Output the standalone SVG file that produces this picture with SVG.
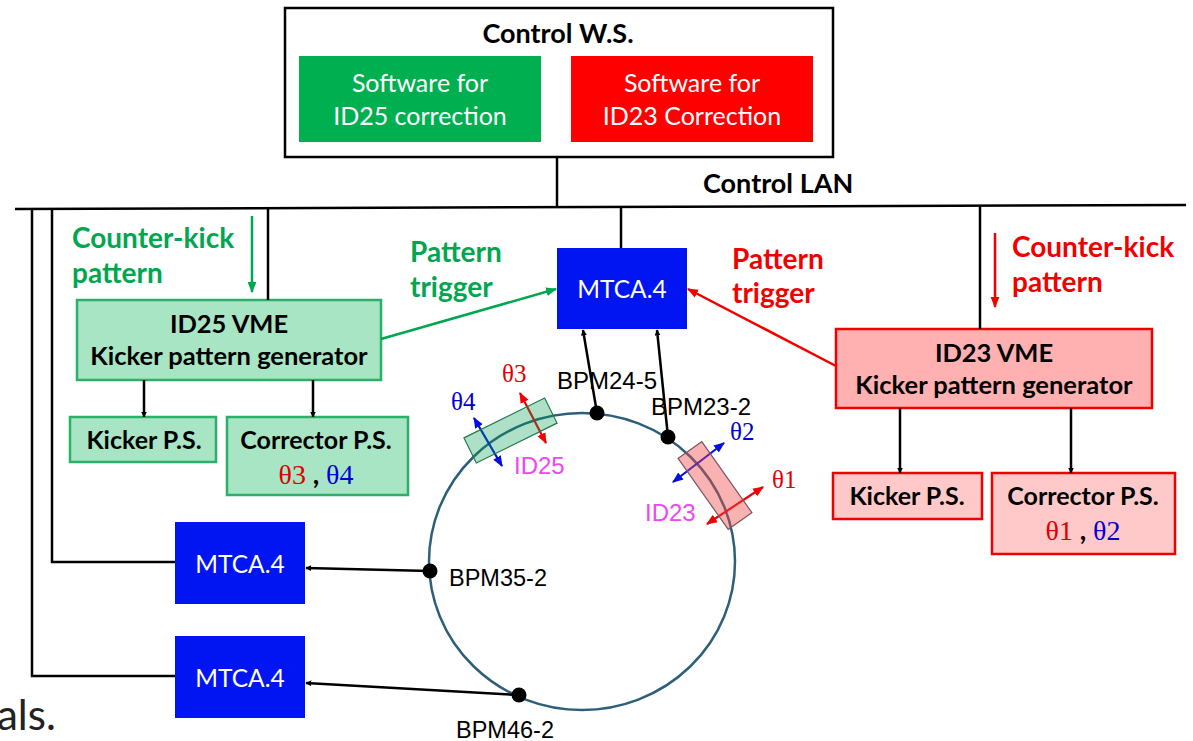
<svg xmlns="http://www.w3.org/2000/svg" width="1193" height="741" viewBox="0 0 1193 741">
  <defs>
    <style>
      .sans { font-family: Lato, "Noto Sans", "Liberation Sans", sans-serif; }
      .arial { font-family: "Liberation Sans", Arial, sans-serif; }
      .serif { font-family: "Liberation Serif", "Times New Roman", serif; }
      .b { font-weight: bold; }
      .line { stroke: #000; stroke-width: 2.5; fill: none; }
      .conn { stroke: #000; stroke-width: 2.5; fill: none; marker-end: url(#ah); }
      .grn { fill: #00A650; }
      .red { fill: #F20000; }
      .box-g { fill: #A8E5C4; stroke: #2BB067; stroke-width: 2.5; }
      .box-r { fill: #FFB0B0; stroke: #F00000; stroke-width: 2.5; }
      .box-r2 { fill: #FFC9C9; stroke: #F00000; stroke-width: 2.5; }
      .mtca { fill: #0015F2; }
      .wt { fill: #fff; }
      .bpm { fill: #000; }
      .th-r { fill: #E00000; }
      .th-b { fill: #0000D0; }
    </style>
    <marker id="ah" viewBox="0 0 10 10" refX="9" refY="5" markerWidth="6" markerHeight="6" orient="auto-start-reverse" markerUnits="userSpaceOnUse">
      <path d="M0,0 L10,5 L0,10 z" fill="#000"/>
    </marker>
    <marker id="ahg" viewBox="0 0 10 10" refX="9" refY="5" markerWidth="11" markerHeight="11" orient="auto" markerUnits="userSpaceOnUse">
      <path d="M0,1 L10,5 L0,9 z" fill="#00A650"/>
    </marker>
    <marker id="ahr" viewBox="0 0 10 10" refX="9" refY="5" markerWidth="11" markerHeight="11" orient="auto" markerUnits="userSpaceOnUse">
      <path d="M0,1 L10,5 L0,9 z" fill="#F20000"/>
    </marker>
    <marker id="tr" viewBox="0 0 10 10" refX="9" refY="5" markerWidth="11" markerHeight="11" orient="auto-start-reverse" markerUnits="userSpaceOnUse">
      <path d="M0,1 L10,5 L0,9 z" fill="#F00000"/>
    </marker>
    <marker id="tb" viewBox="0 0 10 10" refX="9" refY="5" markerWidth="11" markerHeight="11" orient="auto-start-reverse" markerUnits="userSpaceOnUse">
      <path d="M0,1 L10,5 L0,9 z" fill="#0010E0"/>
    </marker>
  </defs>

  <rect width="1193" height="741" fill="#fff"/>

  <!-- Control workstation -->
  <g id="control-ws">
    <rect x="285" y="8" width="548" height="149" fill="#fff" stroke="#000" stroke-width="2.5"/>
    <text x="558" y="43" text-anchor="middle" class="sans b" font-size="27">Control W.S.</text>
  </g>
  <g id="sw-id25">
    <rect x="299" y="56" width="242" height="86" fill="#00B050"/>
    <text x="420" y="92" text-anchor="middle" class="sans wt" font-size="25">Software for</text>
    <text x="420" y="125" text-anchor="middle" class="sans wt" font-size="25">ID25 correction</text>
  </g>
  <g id="sw-id23">
    <rect x="571" y="56" width="242" height="86" fill="#FF0000"/>
    <text x="692" y="92" text-anchor="middle" class="sans wt" font-size="25">Software for</text>
    <text x="692" y="125" text-anchor="middle" class="sans wt" font-size="25">ID23 Correction</text>
  </g>

  <!-- Control LAN bus -->
  <g id="control-lan">
    <line x1="15" y1="209" x2="1186" y2="205" class="line"/>
    <text x="703" y="193" class="sans b" font-size="27">Control LAN</text>
  </g>

  <!-- ID25 side -->
  <g id="id25-vme">
    <rect x="77" y="300" width="304" height="80" class="box-g"/>
    <text x="229" y="333" text-anchor="middle" class="sans b" font-size="25.5">ID25 VME</text>
    <text x="229" y="365" text-anchor="middle" class="sans b" font-size="25.5">Kicker pattern generator</text>
  </g>
  <g id="id25-kicker-ps">
    <rect x="70" y="417" width="146" height="45" class="box-g"/>
    <text x="144" y="449" text-anchor="middle" class="sans b" font-size="25">Kicker P.S.</text>
  </g>
  <g id="id25-corrector-ps">
    <rect x="227" y="417" width="181" height="78" class="box-g"/>
    <text x="316" y="449" text-anchor="middle" class="sans b" font-size="25">Corrector P.S.</text>
    <text x="316" y="484" text-anchor="middle" font-size="28"><tspan class="serif th-r">θ3</tspan><tspan class="sans b"> , </tspan><tspan class="serif th-b">θ4</tspan></text>
  </g>

  <!-- ID23 side -->
  <g id="id23-vme">
    <rect x="836" y="329" width="316" height="79" class="box-r"/>
    <text x="994" y="362" text-anchor="middle" class="sans b" font-size="25.5">ID23 VME</text>
    <text x="994" y="394" text-anchor="middle" class="sans b" font-size="25.5">Kicker pattern generator</text>
  </g>
  <g id="id23-kicker-ps">
    <rect x="833" y="473" width="149" height="46" class="box-r2"/>
    <text x="907" y="505" text-anchor="middle" class="sans b" font-size="25">Kicker P.S.</text>
  </g>
  <g id="id23-corrector-ps">
    <rect x="992" y="473" width="183" height="81" class="box-r2"/>
    <text x="1083" y="505" text-anchor="middle" class="sans b" font-size="25">Corrector P.S.</text>
    <text x="1083" y="540" text-anchor="middle" font-size="28"><tspan class="serif th-r">θ1</tspan><tspan class="sans b"> , </tspan><tspan class="serif th-b">θ2</tspan></text>
  </g>

  <!-- MTCA.4 crates -->
  <g id="mtca-main">
    <rect x="557" y="248" width="130" height="81" class="mtca"/>
    <text x="622" y="298" text-anchor="middle" class="sans wt" font-size="24.5">MTCA.4</text>
  </g>
  <g id="mtca-35">
    <rect x="175" y="522" width="130" height="82" class="mtca"/>
    <text x="240" y="573" text-anchor="middle" class="sans wt" font-size="24.5">MTCA.4</text>
  </g>
  <g id="mtca-46">
    <rect x="175" y="636" width="130" height="82" class="mtca"/>
    <text x="240" y="687" text-anchor="middle" class="sans wt" font-size="24.5">MTCA.4</text>
  </g>

  <!-- Storage ring with insertion devices -->
  <g id="ring">
    <ellipse cx="582" cy="561.5" rx="153" ry="148.5" fill="none" stroke="#2E5F7A" stroke-width="2.5"/>
  </g>
  <g id="id25">
    <line x1="520" y1="393" x2="546" y2="443" stroke="#F00000" stroke-width="2.2" marker-start="url(#tr)" marker-end="url(#tr)"/>
    <line x1="474" y1="418" x2="502" y2="466" stroke="#0010E0" stroke-width="2.2" marker-start="url(#tb)" marker-end="url(#tb)"/>
    <rect x="-45" y="-14" width="90" height="28" transform="translate(510.5 430.5) rotate(-26.3)" fill="#00A050" fill-opacity="0.32" stroke="#1F7A4A" stroke-width="1.2"/>
    <text x="514" y="474" class="arial" font-size="24" fill="#F046EE">ID25</text>
    <text x="502" y="382" class="serif th-r" font-size="25">θ3</text>
    <text x="451" y="410" class="serif th-b" font-size="25">θ4</text>
  </g>
  <g id="id23">
    <line x1="673" y1="482" x2="724" y2="443" stroke="#0010E0" stroke-width="2.2" marker-start="url(#tb)" marker-end="url(#tb)"/>
    <line x1="707" y1="524" x2="763" y2="487" stroke="#F00000" stroke-width="2.2" marker-start="url(#tr)" marker-end="url(#tr)"/>
    <rect x="-43.5" y="-14.5" width="87" height="29" transform="translate(715 485.5) rotate(54.8)" fill="#F04848" fill-opacity="0.42" stroke="#7A5560" stroke-width="1.2"/>
    <text x="645" y="521" class="arial" font-size="24" fill="#F046EE">ID23</text>
    <text x="730" y="440" class="serif th-b" font-size="25">θ2</text>
    <text x="772" y="488" class="serif th-r" font-size="25">θ1</text>
  </g>

  <!-- Beam position monitors -->
  <g id="bpm24-5">
    <circle cx="597" cy="413" r="7.5" class="bpm"/>
    <text x="557" y="389" class="arial" font-size="24">BPM24-5</text>
  </g>
  <g id="bpm23-2">
    <circle cx="668" cy="437" r="7.5" class="bpm"/>
    <text x="651" y="415" class="arial" font-size="24">BPM23-2</text>
  </g>
  <g id="bpm35-2">
    <circle cx="430" cy="571" r="7.5" class="bpm"/>
    <text x="449" y="586" class="arial" font-size="23.5">BPM35-2</text>
  </g>
  <g id="bpm46-2">
    <circle cx="519" cy="695" r="7.5" class="bpm"/>
    <text x="456" y="738" class="arial" font-size="23.5">BPM46-2</text>
  </g>

  <!-- Flow labels -->
  <g id="labels">
    <text x="72" y="248" class="sans b grn" font-size="28">Counter-kick</text>
    <text x="72" y="283" class="sans b grn" font-size="28">pattern</text>
    <text x="410" y="262" class="sans b grn" font-size="28">Pattern</text>
    <text x="410" y="297" class="sans b grn" font-size="28">trigger</text>
    <text x="732" y="269" class="sans b red" font-size="28">Pattern</text>
    <text x="732" y="303" class="sans b red" font-size="28">trigger</text>
    <text x="1012" y="257" class="sans b red" font-size="28">Counter-kick</text>
    <text x="1012" y="292" class="sans b red" font-size="28">pattern</text>
    <text x="-3" y="730" class="sans" font-size="42" fill="#222">als.</text>
  </g>

  <!-- Connectors -->
  <g id="connectors">
    <!-- workstation and LAN drops -->
    <line x1="557" y1="157" x2="557" y2="208" class="line"/>
    <line x1="621" y1="207" x2="621" y2="248" class="line"/>
    <line x1="268" y1="208" x2="268" y2="300" class="line"/>
    <line x1="980" y1="205" x2="980" y2="329" class="line"/>
    <polyline points="52,208 52,562 175,562" class="line"/>
    <polyline points="32,208 32,676 175,676" class="line"/>
    <!-- counter-kick pattern inputs -->
    <line x1="252" y1="216" x2="252" y2="292" stroke="#00A650" stroke-width="2.5" marker-end="url(#ahg)"/>
    <line x1="995" y1="233" x2="995" y2="307" stroke="#F20000" stroke-width="2.5" marker-end="url(#ahr)"/>
    <!-- pattern triggers -->
    <line x1="381" y1="339" x2="556" y2="289" stroke="#00A650" stroke-width="2.5" marker-end="url(#ahg)"/>
    <line x1="836" y1="366" x2="688" y2="289" stroke="#F20000" stroke-width="2.5" marker-end="url(#ahr)"/>
    <!-- VME to power supplies -->
    <line x1="144" y1="380" x2="144" y2="417" class="conn"/>
    <line x1="313" y1="380" x2="313" y2="417" class="conn"/>
    <line x1="900" y1="408" x2="900" y2="473" class="conn"/>
    <line x1="1071" y1="408" x2="1071" y2="473" class="conn"/>
    <!-- BPM signals to MTCA.4 -->
    <line x1="597" y1="413" x2="583" y2="330" class="conn"/>
    <line x1="668" y1="437" x2="657" y2="330" class="conn"/>
    <line x1="430" y1="571" x2="306" y2="568" class="conn"/>
    <line x1="519" y1="695" x2="306" y2="683" class="conn"/>
  </g>
</svg>
